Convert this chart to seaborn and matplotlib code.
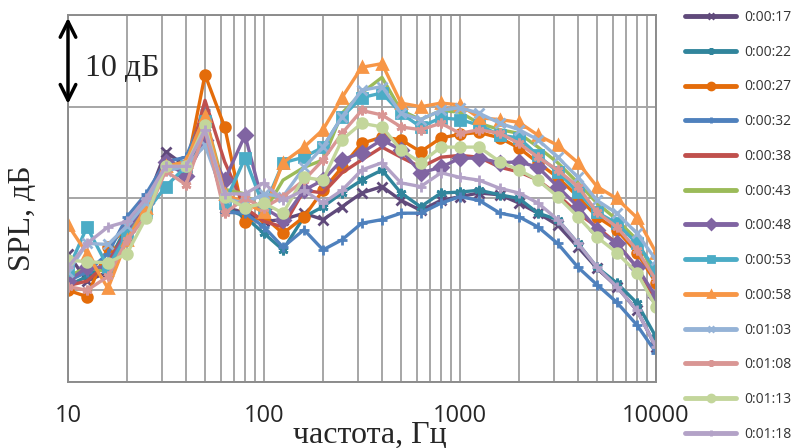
import seaborn as sns
import matplotlib.pyplot as plt
from matplotlib.ticker import FixedLocator, NullFormatter, FixedFormatter, LogLocator

# частоты, 1/3 октавы
freq = [10, 12.5, 16, 20, 25, 31.5, 40, 50, 63, 80, 100, 125, 160, 200, 250, 315,
        400, 500, 630, 800, 1000, 1250, 1600, 2000, 2500, 3150, 4000, 5000, 6300, 8000, 10000]

s_0017 = [14, 11, 12, 16, 19.5, 25.1, 23.5, 27, 19, 18.5, 17.5,
          17.7, 18.4, 17.7, 19.1, 20.6, 21.3, 19.8, 18.7, 19.8, 20.2,
          20.6, 20.4, 19.5, 18.4, 17.1, 14.7, 12.4, 10.4, 7.8, 3.8]
s_0022 = [10.5, 11.5, 13, 17, 20, 23.5, 23, 28, 19, 18, 16.2,
          14.4, 18, 19.1, 20.6, 22, 23.1, 20.6, 19.1, 20.6, 20.7,
          20.9, 20.4, 20, 18.4, 17.7, 15.1, 12.5, 10.8, 8.6, 4.9]
s_0027 = [10, 9.3, 14.7, 17, 19, 24, 23, 33.5, 27.8, 17.4, 18,
          16.2, 18, 20.9, 23.4, 26, 26.7, 26.4, 25.1, 26.6, 27,
          27.2, 26.6, 25.5, 23.9, 22.3, 20.2, 18, 16.6, 14.1, 10.8]
s_0032 = [11, 12, 14, 18, 20.5, 24, 24.5, 29.6, 18.5, 18.4, 16.9,
          14.7, 16.6, 14.4, 15.5, 17.3, 17.7, 18.4, 18.4, 19.5, 20.2,
          19.8, 18.4, 18, 16.9, 15.1, 12.5, 10.6, 8.7, 6.2, 3.2]
s_0038 = [10.5, 11, 13, 16.5, 19.5, 23.5, 23, 30.7, 24, 19, 17.5,
          16.9, 20.9, 20.6, 22.8, 24.2, 25.6, 24.5, 23.4, 24.5, 24.7,
          24.5, 23.4, 22.9, 22, 20.4, 18.4, 16.9, 15.1, 12.5, 8.9]
s_0043 = [11.5, 12.5, 12, 16, 19, 23.5, 24, 29, 21, 20.5, 18.5,
          22, 23.4, 24.2, 29.3, 31.5, 33.2, 29.6, 28.6, 29.6, 29.4,
          28.2, 27.5, 27.1, 25.6, 23.9, 21.7, 19.5, 17.7, 15.5, 11.4]
s_0048 = [11, 12.5, 12.5, 16.5, 19.5, 24, 22.5, 26.4, 22, 26.9, 19,
          17.7, 20.9, 22, 24.2, 25, 26.4, 25.3, 22.8, 23.4, 24.4,
          24.4, 23.9, 24, 23.4, 21.3, 19.1, 16.6, 15.1, 12.5, 9.3]
s_0053 = [12.2, 16.9, 12.5, 16, 18.5, 21.3, 23.5, 28.5, 19.5, 24.4, 19,
          23.9, 24.5, 25.6, 28.9, 31, 31.5, 29.3, 27.8, 28.8, 28.6,
          28, 26.9, 26.6, 24.7, 22.9, 20.7, 18.5, 17.3, 15.1, 12.2]
s_0058 = [17.1, 14, 10.2, 15.5, 19, 23.5, 24, 29, 20.5, 19.5, 18.5,
          23.9, 25.6, 27.5, 31, 34.3, 34.7, 30.4, 30, 30.4, 30.2,
          28.8, 28.6, 28.3, 26.9, 25.8, 23.9, 21.3, 20, 17.9, 14.1]
s_0103 = [12, 15.1, 15, 17, 19.5, 23, 23.5, 25.8, 20, 19.5, 20.5,
          20.2, 23.4, 25.6, 28.9, 31.8, 32.2, 29.3, 28.6, 29.6, 29.9,
          29.3, 28.2, 27.5, 26.4, 24.5, 22.3, 19.8, 18.4, 16.2, 13.3]
s_0108 = [10.4, 10, 11.5, 15.5, 18, 23, 21.5, 27.5, 18.4, 20, 19,
          20.2, 22, 24.2, 27.1, 29.6, 29.1, 27.8, 27.5, 28.2, 27.1,
          27.5, 27.1, 26, 24.5, 23.1, 21.3, 18.5, 16.9, 14.4, 11.1]
s_0113 = [13.3, 13.1, 13, 14, 17.9, 23.5, 23.5, 28, 20.2, 19, 19.5,
          18.4, 22.3, 22, 26.4, 28.2, 27.8, 25.3, 23.9, 25.6, 25.6,
          25.6, 24, 23.1, 22, 20.2, 18, 15.8, 14.1, 11.9, 8.2]
s_0118 = [12.5, 15.1, 16.9, 17.5, 20, 23.5, 23.5, 27.5, 20.5, 20.5, 21.7,
          19.8, 20.9, 19.5, 20.9, 23.1, 23.9, 21.7, 21.3, 22.8, 22.3,
          22, 21.1, 20.6, 19.5, 17.7, 15.1, 12.5, 10.4, 7.8, 3.8]

labels = ["0:00:17", "0:00:22", "0:00:27", "0:00:32", "0:00:38", "0:00:43", "0:00:48",
          "0:00:53", "0:00:58", "0:01:03", "0:01:08", "0:01:13", "0:01:18"]
series = [s_0017, s_0022, s_0027, s_0032, s_0038, s_0043, s_0048,
          s_0053, s_0058, s_0103, s_0108, s_0113, s_0118]
colors = ["#604a7b", "#31859c", "#e46c0a", "#4f81bd", "#c0504d", "#9bbb59", "#8064a2",
          "#4bacc6", "#f79646", "#95b3d7", "#d99694", "#c3d69b", "#b3a2c7"]
asterisk = (6, 2, 0)
markers = ["x", asterisk, "o", "+", None, None, "D", "s", "^", "x", asterisk, "o", "+"]

sns.set_style("white")

fig = plt.figure(figsize=(8.01, 4.48), dpi=100)
ax = fig.add_axes([68 / 801, 66 / 448, 588 / 801, 367 / 448])

for name, vals, c, m in zip(labels, series, colors, markers):
    sns.lineplot(x=freq, y=vals, ax=ax, color=c, marker=m, markersize=7,
                 markeredgewidth=2, markeredgecolor=c, lw=2.4, label=name)

ax.set_xscale("log")
ax.set_xlim(10, 10000)
ax.set_ylim(0, 40)
ax.set_yticks([0, 10, 20, 30, 40])
ax.set_yticklabels([])
ax.xaxis.set_major_locator(FixedLocator([10, 100, 1000, 10000]))
ax.xaxis.set_major_formatter(FixedFormatter(["10", "100", "1000", "10000"]))
ax.xaxis.set_minor_locator(LogLocator(base=10, subs=range(2, 10)))
ax.xaxis.set_minor_formatter(NullFormatter())
ax.grid(True, which="both", color="#a6a6a6", lw=1.4)
ax.set_axisbelow(True)
for sp in ax.spines.values():
    sp.set_color("#8c8c8c")
    sp.set_linewidth(1.4)
ax.tick_params(axis="both", which="both", length=0)
ax.tick_params(axis="x", pad=16)
for t in ax.get_xticklabels():
    t.set_family("Open Sans")
    t.set_fontsize(17)
ax.set_xlabel("")
ax.set_ylabel("")

# шкала 10 дБ
ax.annotate("", xy=(10, 40), xytext=(10, 30),
            arrowprops=dict(arrowstyle="<->", color="black", lw=2.5, mutation_scale=28),
            annotation_clip=False)
ax.text(12.2, 34.2, "10 дБ", family="Liberation Serif", fontsize=23, va="center", ha="left")

fig.text(370 / 801, 1 - 435 / 448, "частота, Гц", family="Liberation Serif",
         fontsize=23, ha="center", va="center")
fig.text(22 / 801, 1 - 218 / 448, "SPL, дБ", family="Liberation Serif",
         fontsize=23, ha="center", va="center", rotation=90)

leg = ax.legend(loc="upper left", bbox_to_anchor=(685 / 801, 1 - 10 / 448),
                bbox_transform=fig.transFigure, frameon=False,
                prop={"family": "Open Sans", "size": 10}, handlelength=3.7,
                labelspacing=1.42, handletextpad=0.55, borderaxespad=0, borderpad=0)
for h in leg.legend_handles:
    h.set_linewidth(3.5)
    h.set_markersize(5)
for t in leg.get_texts():
    t.set_color("#333333")

fig.savefig("out.png", dpi=100)
